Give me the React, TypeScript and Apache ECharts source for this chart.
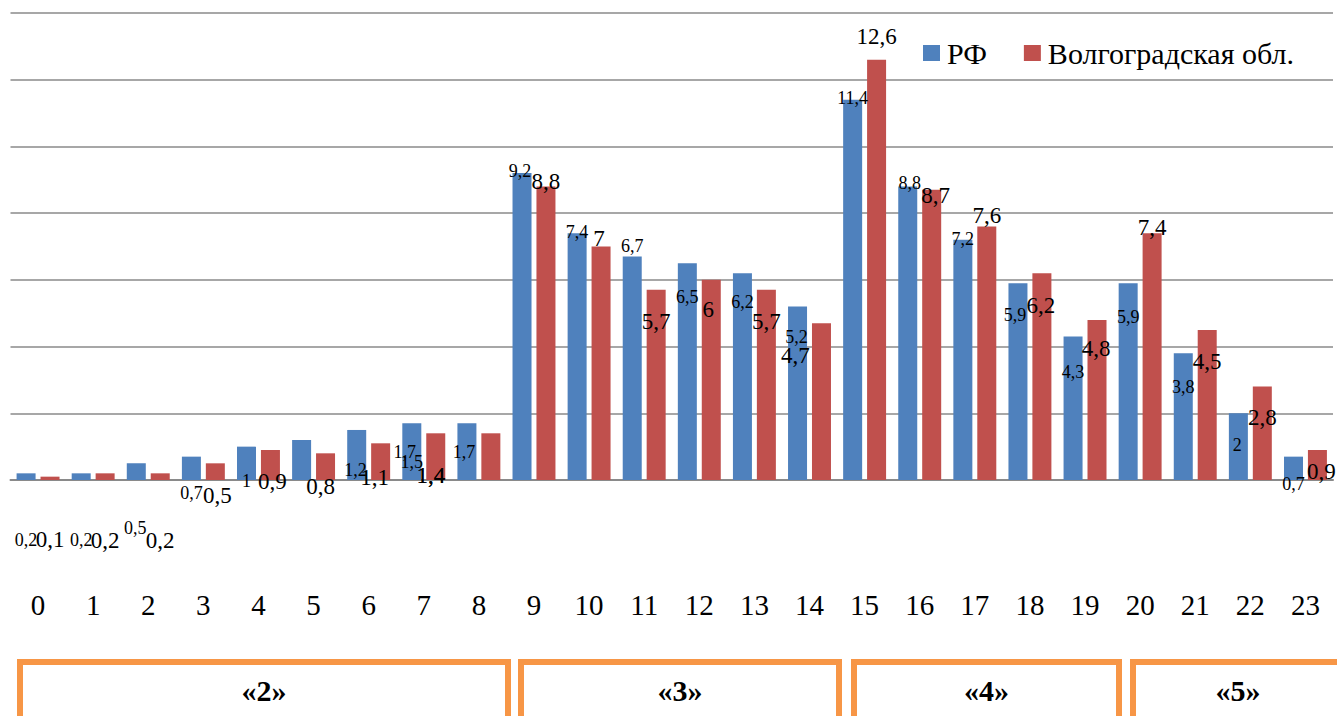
import React, { useEffect, useRef } from "react";
import * as echarts from "echarts";

const hours = ["0","1","2","3","4","5","6","7","8","9","10","11","12","13","14","15","16","17","18","19","20","21","22","23"];
const seriesNames = ["РФ", "Волгоградская обл."];
const rfValues = [0.2,0.2,0.5,0.7,1.0,1.2,1.5,1.7,1.7,9.2,7.4,6.7,6.5,6.2,5.2,11.4,8.8,7.2,5.9,4.3,5.9,3.8,2.0,0.7];
const volgValues = [0.1,0.2,0.2,0.5,0.9,0.8,1.1,1.4,1.4,8.8,7.0,5.7,6.0,5.7,4.7,12.6,8.7,7.6,6.2,4.8,7.4,4.5,2.8,0.9];
const groupLabels = ["«2»", "«3»", "«4»", "«5»"];

// label displacement (px) relative to the bar top, as in the reference
const rfLabelDx = [0,0,-1,0,0,54,55,-7,-3,-2,0,0,0,0,-1,0,2,0,-3,0,0,0,-1,0];
const rfLabelDy = [67,67,65,36,34,30,32,29,29,-2,-1,-11,34,29,30,-2,-3,-1,32,35,34,34,32,27];
const volgLabelDx = [0,0,0,2,2,-5,-6,-5,-60,0,-2,0,-3,0,-26,0,4,0,-1,-1,0,0,0,4];
const volgLabelDy = [63,67,67,32,32,33,34,42,42,-5,-8,32,30,32,32,-23,6,-11,32,29,-6,32,31,22];

const FONT = "'Liberation Serif', 'Times New Roman', serif";
const fmt = (v: number) => String(v).replace(".", ",");

export default function App() {
  const ref = useRef<HTMLDivElement>(null);
  useEffect(() => {
    document.body.style.margin = "0";
    if (!ref.current) return;
    const chart = echarts.init(ref.current, undefined, { renderer: "svg" });
    const rfFs = 18;
    const vFs = 23;
    const mk = (vals: number[], dx: number[], dy: number[], fs: number) =>
      vals.map((v, i) => ({
        value: v,
        label: { offset: [dx[i], dy[i] + fs / 2] },
      }));
    const boxes = [
      { x: 20, w: 488 },
      { x: 521, w: 318 },
      { x: 854, w: 265 },
      { x: 1133, w: 210 },
    ];
    chart.setOption({
      animation: false,
      textStyle: { fontFamily: FONT },
      legend: {
        left: 918,
        top: 33,
        itemWidth: 17,
        itemHeight: 16,
        itemGap: 37,
        icon: "rect",
        textStyle: { fontSize: 30, color: "#000", fontFamily: FONT, padding: [0, 0, 0, 2] },
        data: seriesNames,
      },
      grid: { left: 10.5, right: 4, top: 13, bottom: 236 },
      xAxis: {
        type: "category",
        data: hours,
        axisLine: { lineStyle: { color: "#8a8a8a", width: 2 } },
        axisTick: { show: false },
        axisLabel: { fontSize: 29, color: "#000", fontFamily: FONT, margin: 110, interval: 0 },
      },
      yAxis: {
        type: "value",
        min: 0,
        max: 14,
        interval: 2,
        axisLabel: { show: false },
        axisLine: { show: false },
        axisTick: { show: false },
        splitLine: { lineStyle: { color: "#8a8a8a", width: 1.5 } },
      },
      series: [
        {
          name: seriesNames[0],
          type: "bar",
          barWidth: 19,
          barGap: "26%",
          itemStyle: { color: "#4F81BD" },
          label: {
            show: true,
            position: "top",
            distance: 0,
            fontSize: rfFs,
            lineHeight: rfFs,
            color: "#000",
            fontFamily: FONT,
            formatter: (p: any) => fmt(p.value),
          },
          data: mk(rfValues, rfLabelDx, rfLabelDy, rfFs),
        },
        {
          name: seriesNames[1],
          type: "bar",
          barWidth: 19,
          itemStyle: { color: "#C0504D" },
          label: {
            show: true,
            position: "top",
            distance: 0,
            fontSize: vFs,
            lineHeight: vFs,
            color: "#000",
            fontFamily: FONT,
            formatter: (p: any) => fmt(p.value),
          },
          data: mk(volgValues, volgLabelDx, volgLabelDy, vFs),
        },
      ],
      graphic: boxes.flatMap((b, i) => [
        {
          type: "rect",
          shape: { x: b.x, y: 662, width: b.w, height: 70 },
          style: { fill: "none", stroke: "#F79646", lineWidth: 6 },
          silent: true,
        },
        {
          type: "text",
          x: b.x + b.w / 2,
          y: 690,
          style: {
            text: groupLabels[i],
            fontSize: 30,
            fontWeight: "bold",
            fontFamily: FONT,
            fill: "#000",
            align: "center",
            verticalAlign: "middle",
          },
          silent: true,
        },
      ]),
    });
    return () => chart.dispose();
  }, []);
  return <div ref={ref} style={{ width: 1337, height: 716 }} />;
}
